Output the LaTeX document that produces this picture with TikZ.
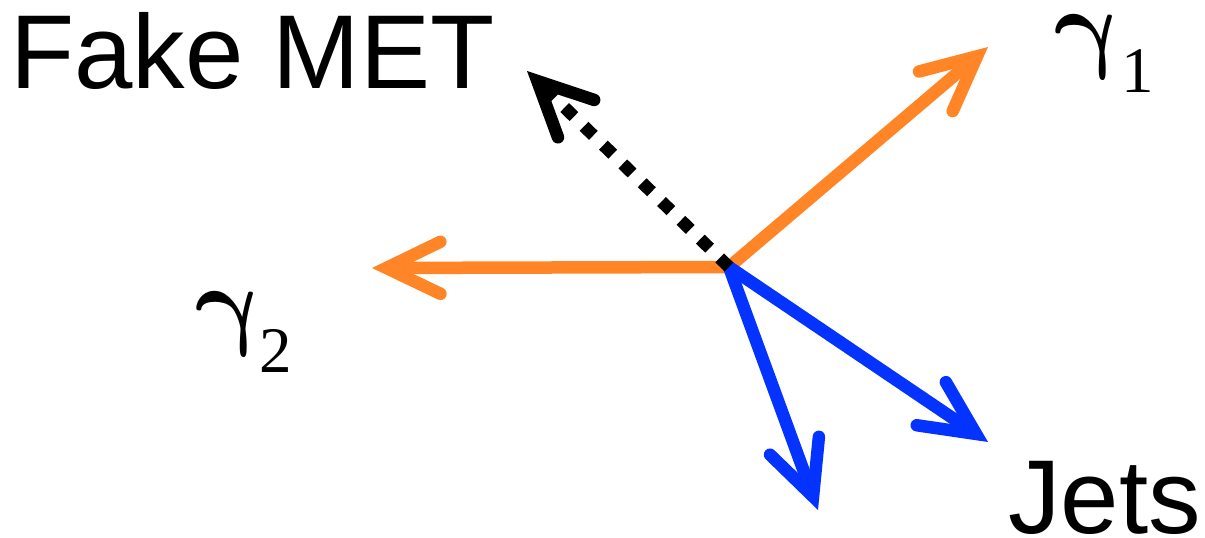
\documentclass[tikz,border=0pt]{standalone}
\usepackage{fontspec}
\usepackage{graphicx}
\setmainfont{Liberation Serif}
\newfontfamily\arialfont{Liberation Sans}
\usetikzlibrary{arrows.meta}
\definecolor{phorange}{RGB}{255,133,39}
\definecolor{jetblue}{RGB}{4,51,255}
\tikzset{
  vec/.style={line width=12.5pt,
    -{Straight Barb[length=54pt,width=52pt,line cap=round,line join=miter]}},
  photon/.style={vec, draw=phorange},
  jet/.style={vec, draw=jetblue},
  met/.style={vec, draw=black, dash pattern=on 13pt off 14pt},
  bigsans/.style={anchor=base west, inner sep=0pt, font=\arialfont\fontsize{105}{105}\selectfont},
  gam/.style={anchor=center, inner sep=0pt, xslant=-0.25},
  gsub/.style={anchor=base west, inner sep=0pt, font=\fontsize{65}{65}\selectfont}
}
\newcommand{\biggam}{\scalebox{10}{\boldmath$\gamma$}}
\begin{document}
\begin{tikzpicture}[x=1pt,y=-1pt]
\useasboundingbox (0,0) rectangle (1205,538);
% vertex and arrow ends
\coordinate (O) at (729,267);
\coordinate (g1end) at (988,47);
\coordinate (g2end) at (372,268);
\coordinate (metend) at (527,71);
\coordinate (j1end) at (988,442);
\coordinate (j2end) at (818,510);
% labels
\node[bigsans] (metlbl) at (10,88) {Fake MET};
\node[bigsans] (jetlbl) at (1008,533) {Jets};
\node[gam] (g1sym) at (1091,47) {\biggam};
\node[gsub] (g1sub) at (1121,92) {1};
\node[gam] (g2sym) at (232,324) {\biggam};
\node[gsub] (g2sub) at (259,372) {2};
% arrows
\draw[photon] (O) -- (g1end);
\draw[photon] (O) -- (g2end);
\draw[jet] (O) -- (j1end);
\draw[jet] (O) -- (j2end);
\draw[met] (O) -- (metend);
\end{tikzpicture}
\end{document}
